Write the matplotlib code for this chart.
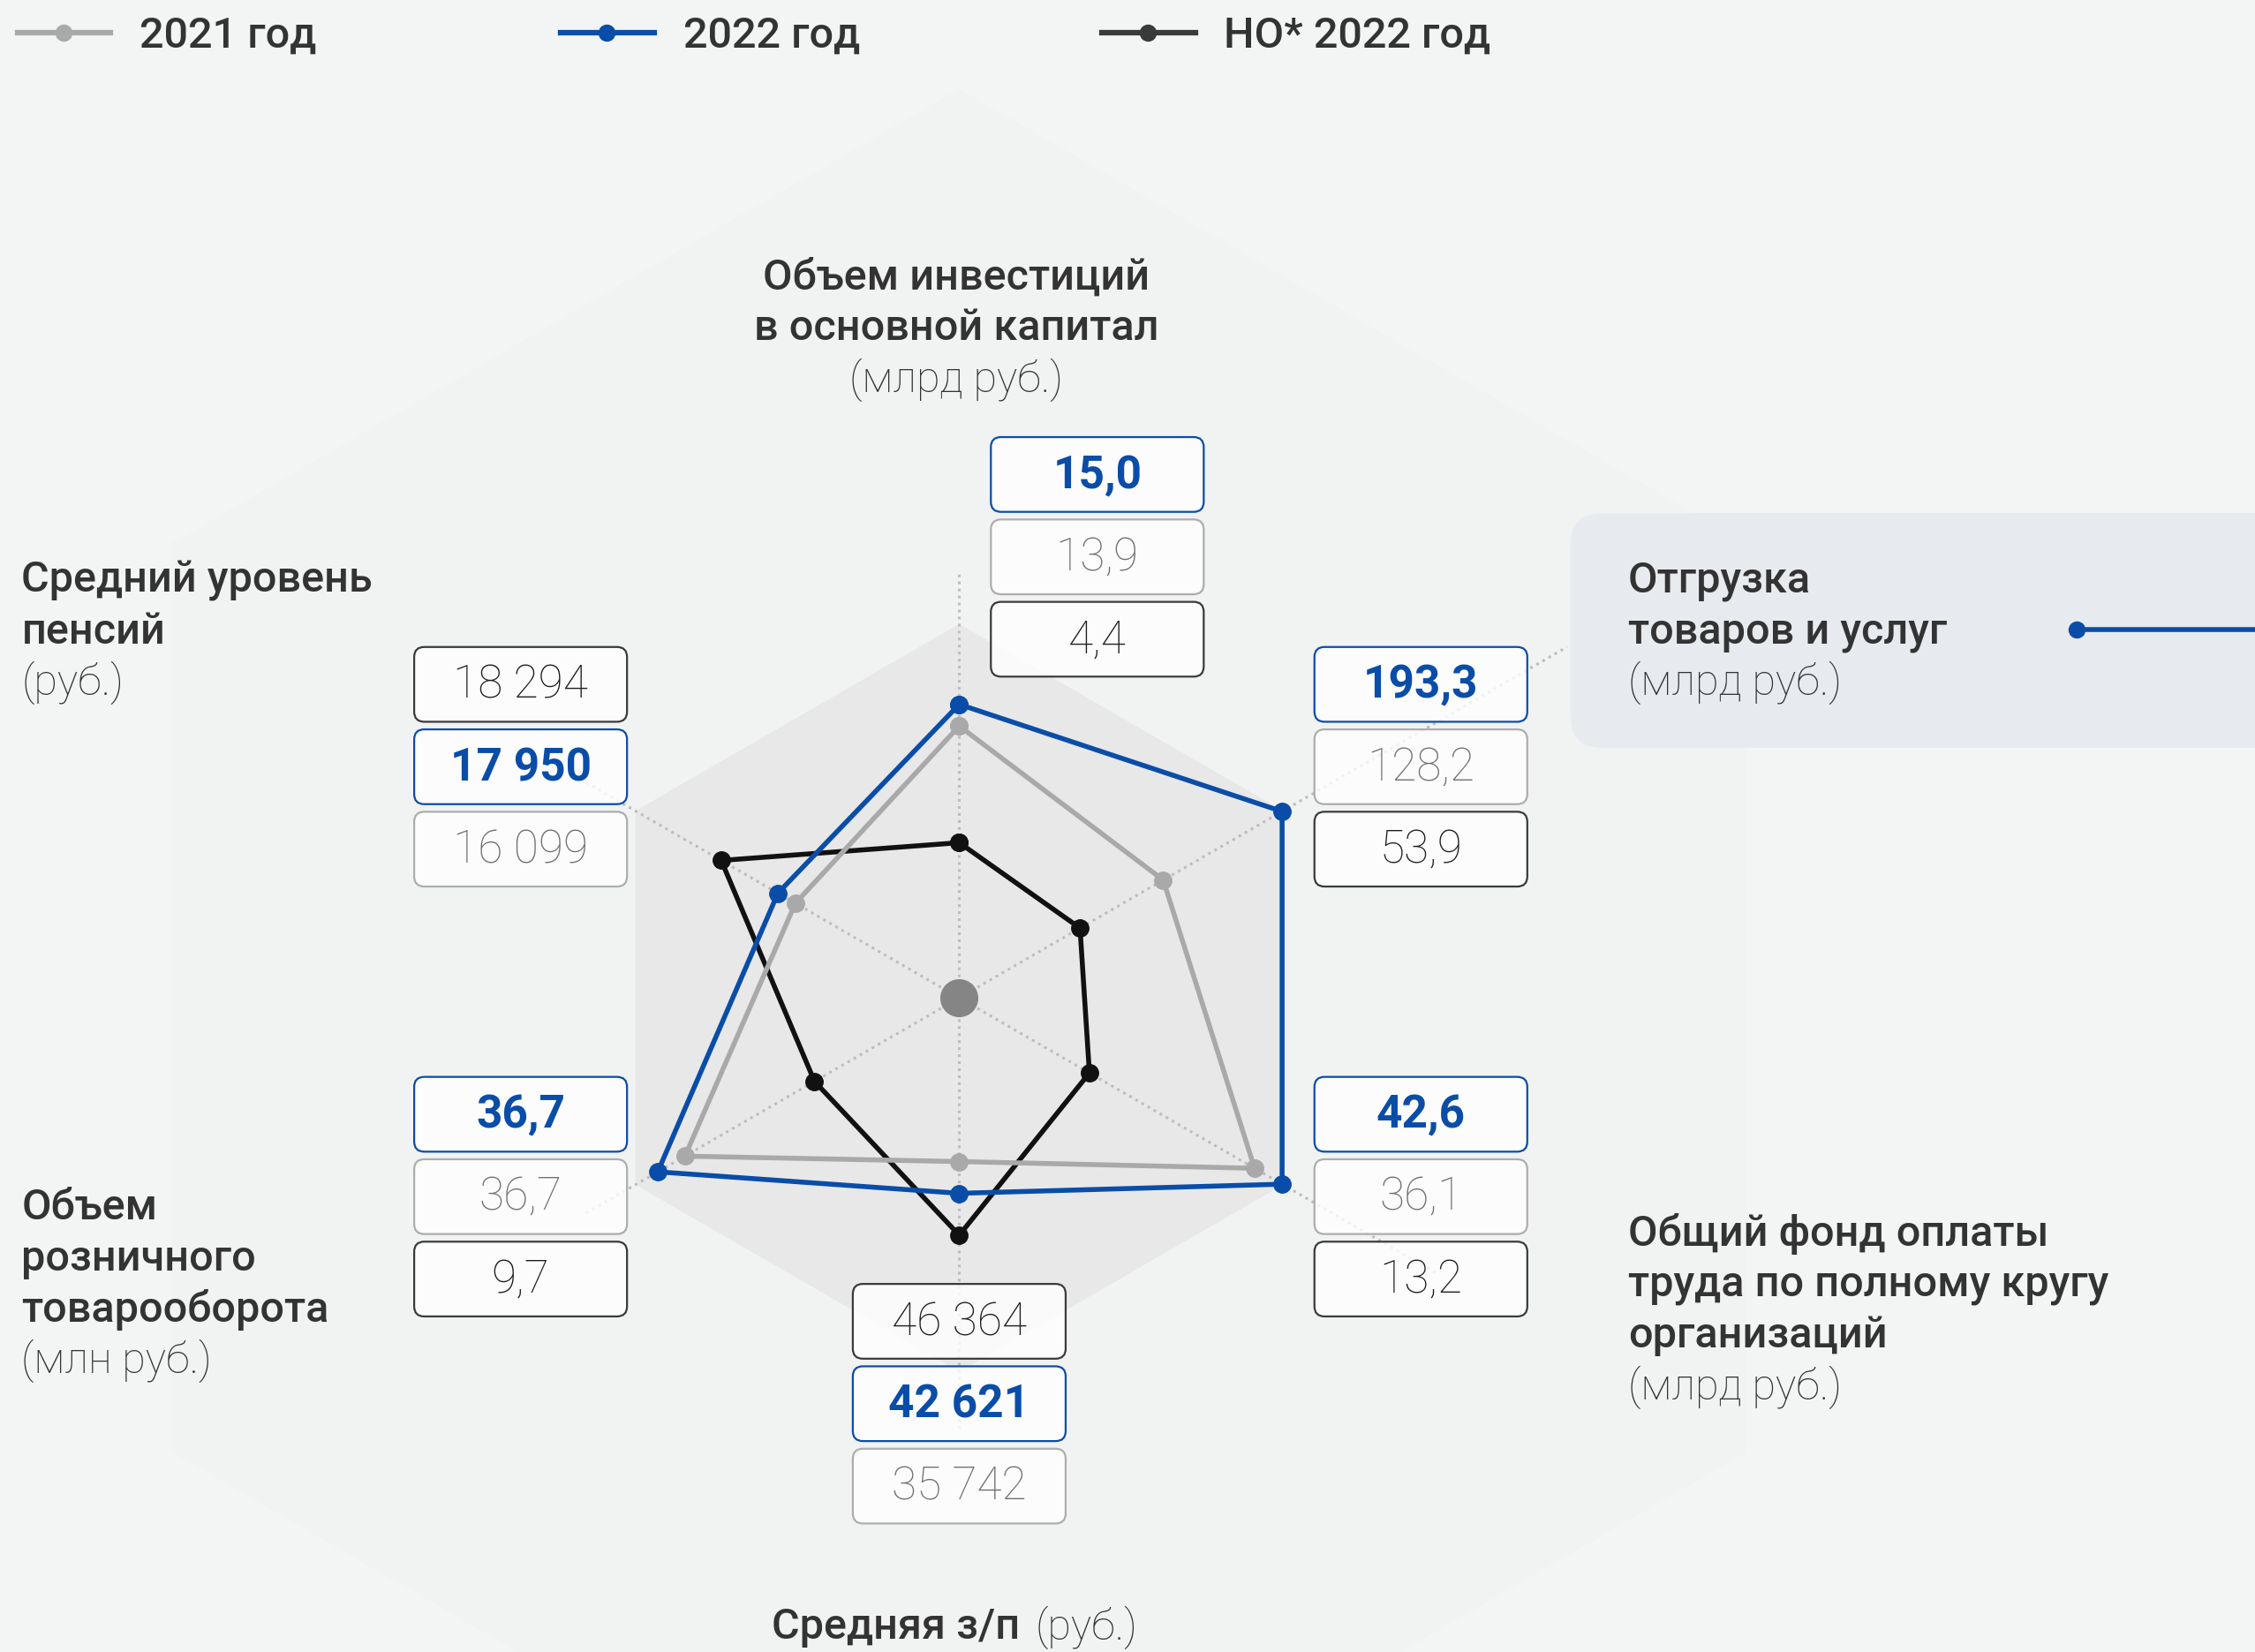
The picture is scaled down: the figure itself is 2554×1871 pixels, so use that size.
import numpy as np
import matplotlib.pyplot as plt
from matplotlib.patches import FancyBboxPatch, Polygon

plt.rcParams['font.family'] = ['Roboto', 'DejaVu Sans']

# indicators, clockwise from the top
angles_deg = [90, 30, -30, -90, -150, 150]
values_2021 = [13.9, 128.2, 36.1, 35742, 36.7, 16099]
values_2022 = [15.0, 193.3, 42.6, 42621, 36.7, 17950]
values_no = [4.4, 53.9, 13.2, 46364, 9.7, 18294]
# position of each point on its axis, % of the hexagon radius
score_2021 = [72.7, 63.0, 91.2, 43.8, 84.7, 50.6]
score_2022 = [78.5, 99.7, 99.7, 52.3, 93.1, 56.0]
score_no = [41.5, 37.3, 40.2, 63.5, 44.7, 73.5]

BLUE = '#0A4DA8'
GRAY = '#A9A9A9'
DARK = '#111111'
TXT = '#333333'

series = [
    # name, values, scores, line color, text color, box edge, weight
    ('2022 год', values_2022, score_2022, BLUE, BLUE, BLUE, 'bold'),
    ('2021 год', values_2021, score_2021, GRAY, '#707070', '#ADADAD', 'light'),
    ('НО* 2022 год', values_no, score_no, DARK, '#1E1E1E', '#3A3A3A', 'light'),
]

W, H = 1568, 1149
cx, cy = 667, 694
R = 260

fig = plt.figure(figsize=(25.54, 18.71), dpi=100)
fig.patch.set_facecolor('#F3F4F4')
ax = fig.add_axes([0, 0, 1, 1])
ax.set_xlim(0, W)
ax.set_ylim(H, 0)
ax.axis('off')

th = np.radians(angles_deg)


def pt(r, t):
    return cx + r * np.cos(t), cy - r * np.sin(t)


# background hexagons
hx, hy = pt(632, th)
ax.add_patch(Polygon(np.c_[hx, hy], closed=True, fc='#F1F2F2', ec='none', zorder=0))
hx, hy = pt(R, th)
ax.add_patch(Polygon(np.c_[hx, hy], closed=True, fc='#E8E8E8', ec='none', zorder=1))

# spokes
spoke_len = [295, 488, 385, 300, 300, 300]
for t, L in zip(th, spoke_len):
    x1, y1 = pt(L, t)
    ax.plot([cx, x1], [cy, y1], color='#BDBDBD', lw=2.2, ls=(0, (1, 1.6)), zorder=2)

ax.plot([cx], [cy], 'o', color='#858585', ms=30, zorder=3)

# series polygons
for name, vals, sc, lc, tc, ec, wt in reversed(series):
    r = np.array(sc) / 100 * R
    x, y = pt(r, th)
    ax.plot(np.r_[x, x[:1]], np.r_[y, y[:1]], color=lc, lw=4.0, marker='o', ms=14,
            zorder=5 if lc == BLUE else 4, solid_joinstyle='miter')


def fmt(v):
    if v >= 1000:
        return f'{int(v):,}'.replace(',', ' ')
    return f'{v:.1f}'.replace('.', ',')


# value boxes (stack top-left corner for every axis)
box_xy = [(689, 304), (914, 450), (914, 749), (593, 893), (288, 749), (288, 450)]
bw, bh, step = 148, 52, 57.3
for i, (bx, by) in enumerate(box_xy):
    order = sorted(series, key=lambda s: -s[1][i])
    for k, (name, vals, sc, lc, tc, ec, wt) in enumerate(order):
        y0 = by + k * step
        ax.add_patch(FancyBboxPatch((bx, y0), bw, bh, boxstyle='round,pad=0,rounding_size=7',
                                    fc=(1, 1, 1, 0.8), ec=ec, lw=1.6, zorder=6))
        ax.text(bx + bw / 2, y0 + bh / 2 + 1, fmt(vals[i]), color=tc, fontsize=37,
                fontweight=wt, ha='center', va='center', zorder=7)

# highlighted label on the right
ax.add_patch(FancyBboxPatch((1092, 357), 600, 163, boxstyle='round,pad=0,rounding_size=22',
                            fc='#E7EBEF', ec='none', zorder=1))
ax.plot([1444, W + 5], [438, 438], color=BLUE, lw=4, zorder=3, clip_on=False)
ax.plot([1444], [438], 'o', color=BLUE, ms=13, zorder=3)

# axis titles: (x, first line y, ha, bold lines, unit)
titles = [
    (665, 193, 'center', ['Объем инвестиций', 'в основной капитал'], '(млрд руб.)'),
    (1132, 404, 'left', ['Отгрузка', 'товаров и услуг'], '(млрд руб.)'),
    (1132, 858, 'left', ['Общий фонд оплаты', 'труда по полному кругу', 'организаций'], '(млрд руб.)'),
    (15, 840, 'left', ['Объем', 'розничного', 'товарооборота'], '(млн руб.)'),
    (15, 404, 'left', ['Средний уровень', 'пенсий'], '(руб.)'),
]
lh = 35.6
for x, y, ha, lines, unit in titles:
    for j, s in enumerate(lines):
        ax.text(x, y + j * lh, s, fontsize=35, fontweight='medium', color=TXT, ha=ha, va='center')
    ax.text(x, y + len(lines) * lh, unit, fontsize=35, fontweight='light', color=TXT, ha=ha, va='center')

ax.text(709, 1132, 'Средняя з/п', fontsize=35, fontweight='medium', color=TXT, ha='right', va='center')
ax.text(720, 1132, '(руб.)', fontsize=35, fontweight='light', color=TXT, ha='left', va='center')

# legend
leg_x = {'2021 год': 12, '2022 год': 390, 'НО* 2022 год': 766}
leg_c = {'2021 год': GRAY, '2022 год': BLUE, 'НО* 2022 год': '#3A3A3A'}
for name in ['2021 год', '2022 год', 'НО* 2022 год']:
    x0 = leg_x[name]
    ax.plot([x0, x0 + 65], [23, 23], color=leg_c[name], lw=4.5, zorder=3)
    ax.plot([x0 + 32], [23], 'o', color=leg_c[name], ms=13, zorder=3)
    ax.text(x0 + 85, 25, name, fontsize=35, fontweight='medium', color=TXT, ha='left', va='center')

fig.savefig('out.png', dpi=100, facecolor=fig.get_facecolor())
